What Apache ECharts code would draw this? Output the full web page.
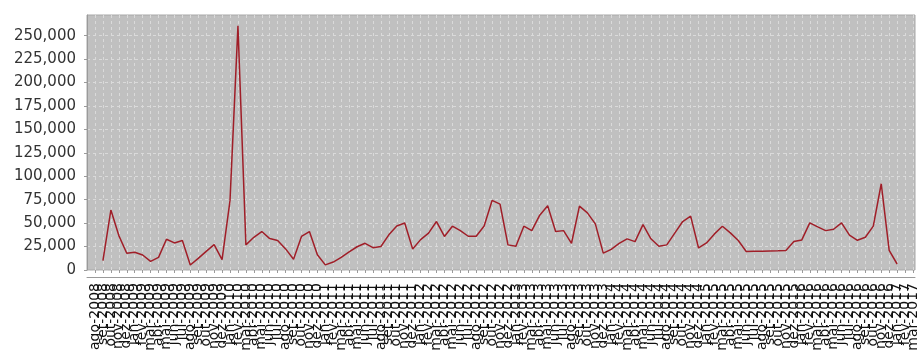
<!DOCTYPE html>
<html><head><meta charset="utf-8">
<script src="https://cdn.jsdelivr.net/npm/echarts@6/dist/echarts.min.js"></script>
<style>html,body{margin:0;padding:0;background:#fff}#c{width:923px;height:355px}</style>
</head><body><div id="c"></div>
<script>
const categories = [
 'ago-2008','set-2008','out-2008','nov-2008','dez-2008',
 'jan-2009','fev-2009','mar-2009','abr-2009','mai-2009','jun-2009','jul-2009','ago-2009','set-2009','out-2009','nov-2009','dez-2009',
 'jan-2010','fev-2010','mar-2010','abr-2010','mai-2010','jun-2010','jul-2010','ago-2010','set-2010','out-2010','nov-2010','dez-2010',
 'jan-2011','fev-2011','mar-2011','abr-2011','mai-2011','jun-2011','jul-2011','ago-2011','set-2011','out-2011','nov-2011','dez-2011',
 'jan-2012','fev-2012','mar-2012','abr-2012','mai-2012','jun-2012','jul-2012','ago-2012','set-2012','out-2012','nov-2012','dez-2012',
 'jan-2013','fev-2013','mar-2013','abr-2013','mai-2013','jun-2013','jul-2013','ago-2013','set-2013','out-2013','nov-2013','dez-2013',
 'jan-2014','fev-2014','mar-2014','abr-2014','mai-2014','jun-2014','jul-2014','ago-2014','set-2014','out-2014','nov-2014','dez-2014',
 'jan-2015','fev-2015','mar-2015','abr-2015','mai-2015','jun-2015','jul-2015','ago-2015','set-2015','out-2015','nov-2015','dez-2015',
 'jan-2016','fev-2016','mar-2016','abr-2016','mai-2016','jun-2016','jul-2016','ago-2016','set-2016','out-2016','nov-2016','dez-2016',
 'jan-2017','fev-2017','mar-2017'
];
const values = [
 null, 10000, 64000, 36700, 17800,
 18900, 16000, 9200, 13500, 32800, 28900, 31400, 5300, 12400, 19900, 27000, 11000,
 74000, 260400, 26800, 34900, 41000, 33500, 31400, 22500, 11500, 35800, 41000, 16200,
 5500, 8500, 13500, 19400, 24800, 28500, 23800, 25100, 37500, 47000, 50100, 22500,
 32400, 39400, 51700, 35800, 46700, 42000, 36000, 36000, 47000, 74200, 70300, 26800,
 25300, 46700, 42000, 58500, 68500, 41100, 42000, 28500, 68100, 61000, 49200, 18000,
 22000, 28300, 33200, 30300, 48400, 33300, 25300, 26800, 39400, 51700, 57400, 23500,
 28900, 38500, 46700, 39600, 31400, 19700, 19900, 20100, 20300, 20500, 20900, 30300,
 32100, 50300, 46000, 42000, 43500, 50300, 37100, 31700, 34900, 46800, 92000, 21000,
 6400, null, null
];
const yTicks = [0, 25000, 50000, 75000, 100000, 125000, 150000, 175000, 200000, 225000, 250000];
const yMax = 272000;

const chart = echarts.init(document.getElementById('c'), null, {renderer: 'canvas'});
const fmt = v => Number(v).toLocaleString('en-US');
const gridLine = {color: '#dadada', width: 1, type: [3, 3]};
chart.setOption({
  animation: false,
  grid: [
    {left: 87, right: 8, top: 15, bottom: 85, show: true, backgroundColor: '#c0c0c0', borderColor: '#a8a8a8', borderWidth: 1},
    {left: 95, right: 10, top: 15, bottom: 85}
  ],
  xAxis: [
    {gridIndex: 0, type: 'value', min: 0, max: 1, offset: 7,
     axisLine: {show: true, onZero: false, lineStyle: {color: '#9a9a9a'}},
     axisTick: {show: false}, axisLabel: {show: false}, splitLine: {show: false}},
    {gridIndex: 1, type: 'category', data: categories, boundaryGap: false, offset: 7,
     axisLine: {show: false},
     axisTick: {show: true, interval: 0, length: 3, lineStyle: {color: '#9a9a9a'}},
     axisLabel: {interval: 0, rotate: 90, fontSize: 14, fontFamily: 'DejaVu Sans', color: '#111', margin: 6},
     splitLine: {show: true, interval: 0, lineStyle: gridLine}}
  ],
  yAxis: [
    {gridIndex: 0, type: 'value', min: 0, max: yMax, interval: 25000, offset: 6,
     axisLine: {show: true, lineStyle: {color: '#9a9a9a'}},
     axisTick: {show: true, length: 3, customValues: yTicks, lineStyle: {color: '#9a9a9a'}},
     axisLabel: {customValues: yTicks, formatter: fmt, fontSize: 15, fontFamily: 'DejaVu Sans', color: '#333', margin: 5},
     splitLine: {show: true, lineStyle: gridLine}},
    {gridIndex: 1, type: 'value', min: 0, max: yMax, show: false, splitLine: {show: false}}
  ],
  series: [{
    type: 'line', xAxisIndex: 1, yAxisIndex: 1, data: values,
    showSymbol: false, connectNulls: false,
    lineStyle: {color: '#a01e28', width: 1.5}, itemStyle: {color: '#a01e28'}
  }]
});
</script></body></html>
